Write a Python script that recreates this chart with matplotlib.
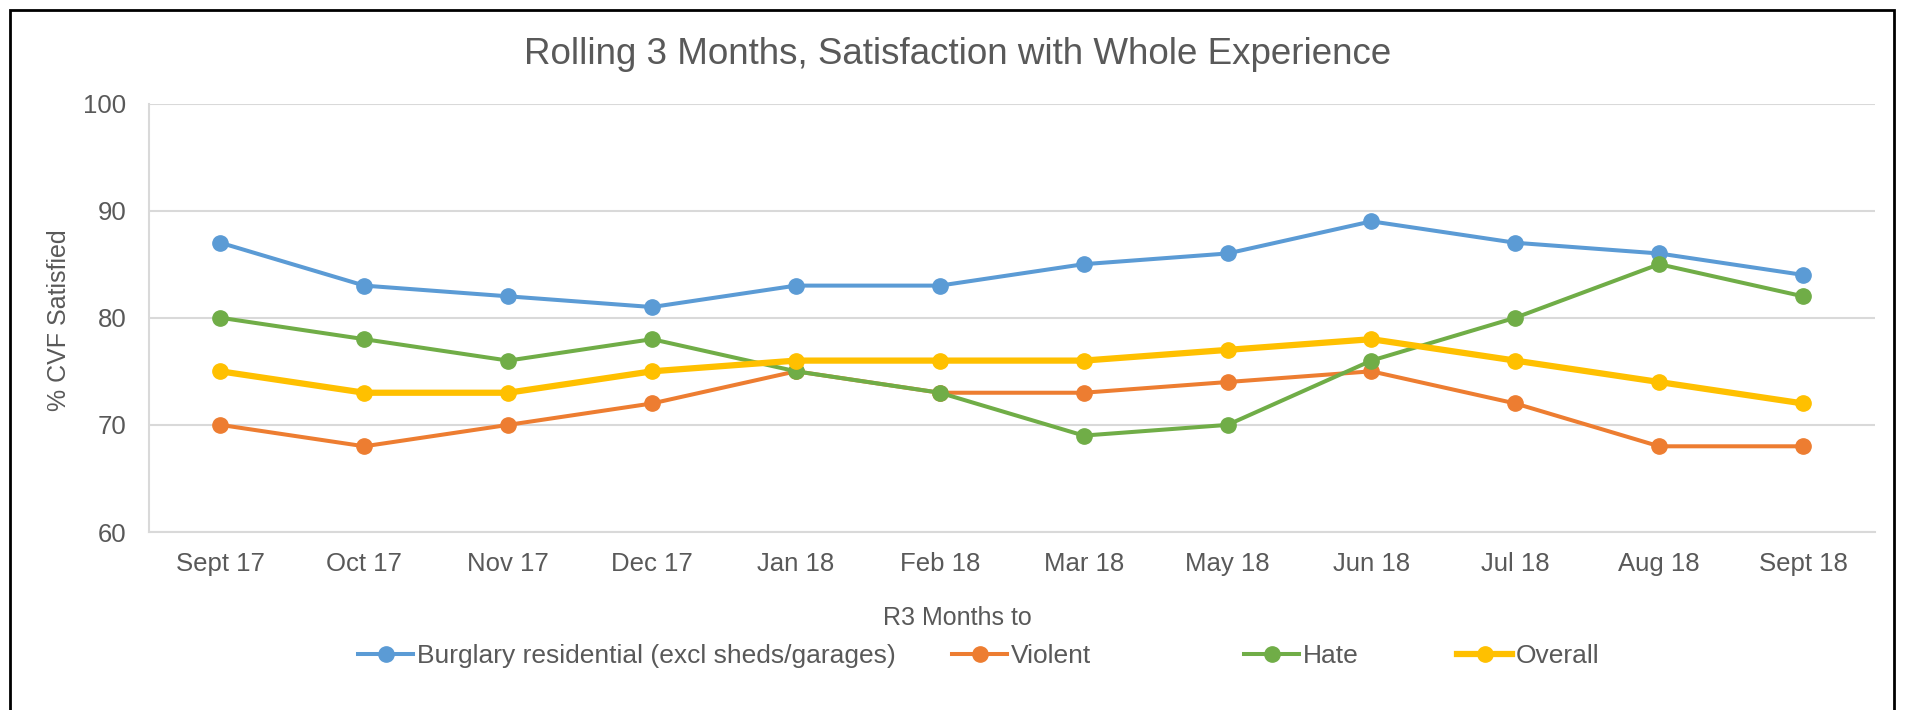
import matplotlib
matplotlib.use('Agg')
import matplotlib.pyplot as plt
from matplotlib.patches import Rectangle
from matplotlib.lines import Line2D

plt.rcParams['font.family'] = ['Liberation Sans', 'DejaVu Sans']

# Data
months = ['Sept 17', 'Oct 17', 'Nov 17', 'Dec 17', 'Jan 18', 'Feb 18',
          'Mar 18', 'May 18', 'Jun 18', 'Jul 18', 'Aug 18', 'Sept 18']
burglary = [87, 83, 82, 81, 83, 83, 85, 86, 89, 87, 86, 84]
violent = [70, 68, 70, 72, 75, 73, 73, 74, 75, 72, 68, 68]
hate = [80, 78, 76, 78, 75, 73, 69, 70, 76, 80, 85, 82]
overall = [75, 73, 73, 75, 76, 76, 76, 77, 78, 76, 74, 72]

series_names = ['Burglary residential (excl sheds/garages)', 'Violent', 'Hate', 'Overall']
colors = ['#5B9BD5', '#ED7D31', '#70AD47', '#FFC000']
widths = [2.9, 2.9, 2.9, 4.5]

TEXT = '#595959'
GRID = '#D9D9D9'
W, H = 1909, 710

fig = plt.figure(figsize=(W / 100, H / 100), dpi=100)
ax = fig.add_axes([148.5 / W, 1 - 532 / H, (1875 - 148.5) / W, (532 - 103.5) / H])

x = list(range(len(months)))
handles = []
for vals, name, c, lw in zip([burglary, violent, hate, overall], series_names, colors, widths):
    line, = ax.plot(x, vals, color=c, linewidth=lw, marker='o', markersize=11, label=name)
    handles.append(line)

ax.set_xlim(-0.5, len(months) - 0.5)
ax.set_ylim(60, 100)
ax.set_yticks([60, 70, 80, 90, 100])
ax.set_xticks(x)
ax.set_xticklabels(months)
ax.tick_params(axis='both', length=0, labelsize=18.5, labelcolor=TEXT)
ax.tick_params(axis='x', pad=14.5)
ax.tick_params(axis='y', pad=16)
ax.grid(axis='y', color=GRID, linewidth=1.5)
ax.set_axisbelow(True)
for s in ['top', 'right']:
    ax.spines[s].set_visible(False)
for s in ['left', 'bottom']:
    ax.spines[s].set_color(GRID)
    ax.spines[s].set_linewidth(1.5)

fig.text(59 / W, 1 - 320 / H, '% CVF Satisfied', rotation=90, ha='center', va='center',
         fontsize=18, color=TEXT)
fig.text(957 / W, 1 - 618 / H, 'R3 Months to', ha='center', va='center', fontsize=18, color=TEXT)
fig.text(958 / W, 1 - 54.5 / H, 'Rolling 3 Months, Satisfaction with Whole Experience',
         ha='center', va='center', fontsize=26.5, color=TEXT)

# legend entries, one per series, placed like the original
legend_x = [358, 952, 1244, 1457]
for h, lx in zip(handles, legend_x):
    proxy = Line2D([], [], color=h.get_color(), linewidth=h.get_linewidth(),
                   marker='o', markersize=11)
    fig.legend([proxy], [h.get_label()], loc='center left',
               bbox_to_anchor=(lx / W, 1 - 656 / H), frameon=False, borderpad=0,
               borderaxespad=0, fontsize=19, labelcolor=TEXT, handlelength=2.1,
               handletextpad=0.13)

fig.patches.append(Rectangle((10 / W, -0.01), (1894 - 10) / W, 1 - 10 / H + 0.01,
                             transform=fig.transFigure, fill=False, edgecolor='black',
                             linewidth=2))

fig.savefig('out.png', dpi=100)
